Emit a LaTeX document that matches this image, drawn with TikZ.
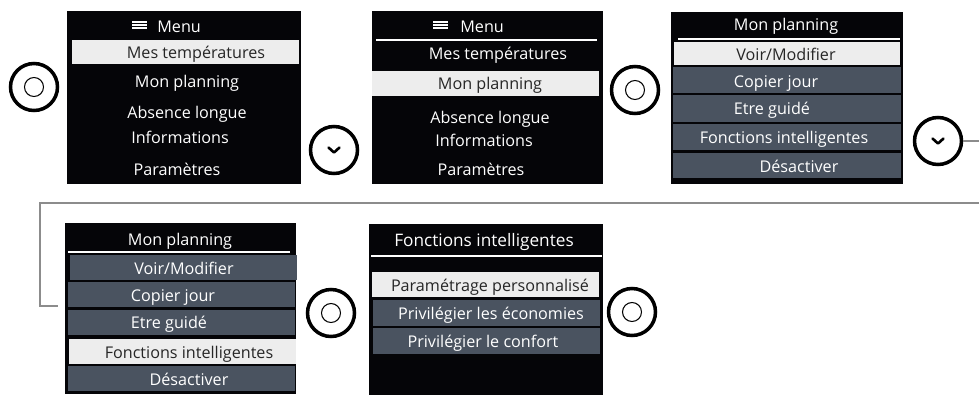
\documentclass[tikz,border=0pt]{standalone}
\usepackage{fontspec}
\setmainfont{Open Sans}
\usetikzlibrary{positioning}
\definecolor{scrbg}{HTML}{050508}
\definecolor{rowgray}{HTML}{4A5360}
\definecolor{hlgray}{HTML}{EDEDED}
\definecolor{linegray}{HTML}{8C8C8C}

\begin{document}
\begin{tikzpicture}[x=0.02cm,y=-0.02cm,font=\fontsize{9.2}{10}\selectfont,
  txt/.style={text=white,anchor=mid,inner sep=0pt,yshift=-1.1pt},
  seltxt/.style={text=black!85,anchor=mid,inner sep=0pt,yshift=-1.1pt},
  okbtn/.style={circle,draw=black,line width=2pt,minimum size=0.94cm,inner sep=0pt},
  conn/.style={draw=linegray,line width=1.2pt}]
\useasboundingbox (0,0) rectangle (979,396);
% screen 1 : main menu
\fill[scrbg] (67,11) rectangle (301,184);
\fill[hlgray] (72,40) rectangle (299,64);
\foreach \yy in {21.7,25,28.3} \draw[white,line width=1pt] (132,\yy) -- (147,\yy);
\node[txt,anchor=west] (m1h) at (157,25) {Menu};
\node[seltxt] (m1a) at (196,52) {Mes températures};
\node[txt] (m1b) at (187,81) {Mon planning};
\node[txt] (m1c) at (187,112) {Absence longue};
\node[txt] (m1d) at (180,137) {Informations};
\node[txt] (m1e) at (177,169) {Paramètres};
% screen 2 : Mon planning selected
\fill[scrbg] (372,11) rectangle (603,184);
\draw[white,line width=1pt] (376,40) -- (597,40);
\fill[hlgray] (372,71) rectangle (599,96);
\foreach \yy in {21.7,25,28.3} \draw[white,line width=1pt] (433,\yy) -- (448,\yy);
\node[txt,anchor=west] (m2h) at (460,25) {Menu};
\node[txt] (m2a) at (498,53) {Mes températures};
\node[seltxt] (m2b) at (490,83) {Mon planning};
\node[txt] (m2c) at (490,117) {Absence longue};
\node[txt] (m2d) at (484,140) {Informations};
\node[txt] (m2e) at (481,169) {Paramètres};
% screen 3 : Mon planning submenu
\fill[scrbg] (671,12) rectangle (903,184);
\draw[white,line width=1pt] (678,39) -- (900,39);
\fill[hlgray] (674,42) rectangle (900,65);
\foreach \ya/\yb in {67/93,95/122,124/150,153/178} \fill[rowgray] (673,\ya) rectangle (901,\yb);
\node[txt] (p3h) at (786,24) {Mon planning};
\node[seltxt] (p3a) at (786,54) {Voir/Modifier};
\node[txt] (p3b) at (776,81) {Copier jour};
\node[txt] (p3c) at (772,108) {Etre guidé};
\node[txt] (p3d) at (784,137) {Fonctions intelligentes};
\node[txt] (p3e) at (799,166) {Désactiver};
% screen 4 : Fonctions intelligentes selected
\fill[scrbg] (65,223) rectangle (296,394);
\draw[white,line width=1pt] (68,252) -- (290,252);
\fill[rowgray] (70,255) rectangle (297,280);
\fill[rowgray] (68,282) rectangle (295,307);
\fill[rowgray] (68,310) rectangle (295,335);
\fill[hlgray] (69,339) rectangle (296,364);
\fill[rowgray] (68,366) rectangle (295,391);
\node[txt] (p4h) at (180,239) {Mon planning};
\node[txt] (p4a) at (184,268) {Voir/Modifier};
\node[txt] (p4b) at (173,295) {Copier jour};
\node[txt] (p4c) at (169,322) {Etre guidé};
\node[seltxt] (p4d) at (189,352) {Fonctions intelligentes};
\node[txt] (p4e) at (189,379) {Désactiver};
% screen 5 : Fonctions intelligentes submenu
\fill[scrbg] (369,224) rectangle (603,395);
\draw[white,line width=1pt] (371,256) -- (602,256);
\fill[hlgray] (372,272) rectangle (599,297);
\fill[rowgray] (373,300) rectangle (600,326);
\fill[rowgray] (373,328) rectangle (600,354);
\node[txt,font=\fontsize{9.8}{11}\selectfont] (f5h) at (484,240) {Fonctions intelligentes};
\node[seltxt] (f5a) at (490,285) {Paramétrage personnalisé};
\node[txt] (f5b) at (491,313) {Privilégier les économies};
\node[txt] (f5c) at (483,341) {Privilégier le confort};
% buttons
\foreach \nm/\xx/\yy in {b1/34/87,b3/635/90,b5/331/313,b6/632/312} {
  \node[okbtn] (\nm) at (\xx,\yy) {};
  \draw[line width=0.6pt] (\nm) circle (0.19cm);
}
\foreach \nm/\xx/\yy in {b2/334/150,b4/938/141} {
  \node[okbtn] (\nm) at (\xx,\yy) {};
  \draw[line width=1.5pt,line cap=round,line join=round] ([shift={(-5.5,-2.5)}]\nm.center) -- ++(5.5,5) -- ++(5.5,-5);
}
% connector to the second row
\coordinate (c4) at (58,306);
\draw[conn] (b4.east) -- (982,141) -- (982,203) -- (40,203) |- (c4);
\end{tikzpicture}
\end{document}
